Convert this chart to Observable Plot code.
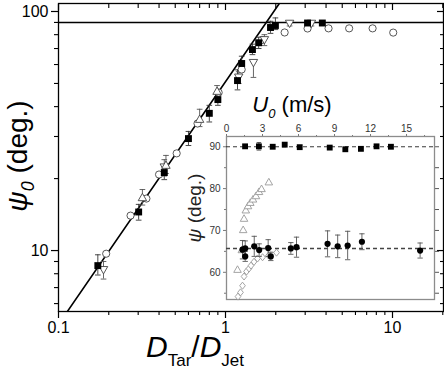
<!DOCTYPE html>
<html><head><meta charset="utf-8">
<script src="https://cdn.jsdelivr.net/npm/d3@7"></script>
<script src="https://cdn.jsdelivr.net/npm/@observablehq/plot@0.6"></script>
<style>
body{margin:0;background:#fff;}
#wrap{position:relative;width:444px;height:371px;overflow:hidden;}
#wrap svg{position:absolute;left:0;top:0;}
</style></head><body><div id="wrap"></div>
<script>
const FONT = "'Liberation Sans', Arial, Helvetica, sans-serif";

// ---------- main panel data: psi0 vs D_Tar/D_Jet ----------
const sqX  = [0.172, 0.302, 0.43, 0.60, 0.80, 0.90, 1.18, 1.25, 1.45, 1.58, 1.86, 1.99, 3.1, 3.8];
const sqY  = [8.65, 14.5, 21.2, 29.4, 37.5, 42.8, 51.4, 60.6, 69.3, 74.0, 85.7, 87.4, 89.5, 89.5];
const sqLo = [7.9, 13.4, 19.8, 27.5, 34.5, 40.5, 47.0, 57.0, 66.0, 70.0, 81.0, 84.0, 88.0, 88.0];
const sqHi = [9.6, 15.6, 22.8, 31.5, 40.5, 45.5, 57.0, 65.0, 73.0, 78.0, 91.0, 94.0, 91.0, 91.0];

const circX = [0.193, 0.27, 0.336, 0.40, 0.51, 0.68, 0.91, 1.25, 1.65, 1.92, 2.26, 3.1, 4.14, 5.5, 7.6, 10.1];
const circY = [9.7, 14.0, 16.5, 20.8, 25.5, 34.0, 45.8, 57.2, 76.0, 87.0, 81.7, 84.9, 85.0, 85.0, 85.0, 81.6];

const tdX  = [0.186, 0.43, 1.20, 1.47, 1.71, 2.42, 3.27];
const tdY  = [8.3, 22.3, 53.0, 61.0, 76.0, 89.0, 89.0];
const tdLo = [7.6, 20.5, 50.0, 53.0, 72.0, 87.0, 87.0];
const tdHi = [9.0, 24.0, 56.0, 62.0, 80.0, 91.0, 91.0];

const tuX  = [0.318, 0.44, 0.70, 0.89];
const tuY  = [16.7, 22.8, 35.5, 46.5];
const tuLo = [15.5, 21.0, 33.0, 44.0];
const tuHi = [18.0, 25.0, 39.0, 49.0];

const fitX = [0.113, 2.1];
const fitY = [5.56, 108];
const plateau = [90];

const xMajor = [0.1, 1, 10];
const xMinor = [0.2,0.3,0.4,0.5,0.6,0.7,0.8,0.9,2,3,4,5,6,7,8,9,20];
const yMajor = [10, 100];
const yMinor = [6,7,8,9,20,30,40,50,60,70,80,90];

// ---------- inset data ----------
const uTicks = [0,3,6,9,12,15];
const uMinor = [1.5,4.5,7.5,10.5,13.5,16.5];
const psiTicks = [60,70,80,90];
const psiMinor = [55,65,75,85];

const sqU    = [1.55, 2.7, 3.85, 4.85, 6.1, 8.6, 9.9, 11.2, 12.5, 13.7];
const sqPsi  = [90.1, 90.1, 90.0, 90.5, 89.9, 89.8, 89.4, 89.5, 90.1, 90.0];
const sqPErr = [0.4, 0.9, 0.4, 0.3, 0.4, 0.3, 0.3, 0.4, 0.3, 0.3];

const dotD   = [1.264, 1.312, 1.312, 1.486, 1.59, 1.80, 1.867, 2.46, 2.66, 4.08, 4.69, 5.38, 6.55, 14.6];
const dotPsi = [65.4, 65.7, 63.8, 66.2, 65.3, 65.8, 63.8, 65.7, 66.0, 66.8, 66.2, 66.4, 67.3, 65.2];
const dotErr = [2.2, 1.8, 1.2, 2.4, 1.5, 2.0, 1.0, 1.4, 2.4, 3.1, 2.7, 3.4, 1.9, 1.8];

const triD   = [1.180, 1.252, 1.276, 1.291, 1.323, 1.364, 1.408, 1.461, 1.522, 1.587, 1.643, 1.817];
const triPsi = [60.7, 65.4, 70.2, 72.9, 74.9, 75.9, 76.7, 77.5, 78.3, 79.3, 80.0, 81.6];

const diaD   = [1.188, 1.230, 1.264, 1.291, 1.336, 1.383, 1.421, 1.481, 1.554, 1.666, 1.809, 2.020];
const diaPsi = [54.2, 55.2, 56.8, 59.0, 60.2, 60.9, 61.6, 62.5, 63.3, 63.6, 64.0, 64.7];

const ref90 = [90];
const refMean = [65.7];

// ---------- custom symbols ----------
const triDown = {draw(ctx, size){ const r = Math.sqrt(size)/1.6; ctx.moveTo(-r,-r*0.8); ctx.lineTo(r,-r*0.8); ctx.lineTo(0,r*0.95); ctx.closePath(); }};
const triUp   = {draw(ctx, size){ const r = Math.sqrt(size)/1.6; ctx.moveTo(-r,r*0.8); ctx.lineTo(r,r*0.8); ctx.lineTo(0,-r*0.95); ctx.closePath(); }};
const diamond = {draw(ctx, size){ const r = Math.sqrt(size)/1.7; ctx.moveTo(0,-r); ctx.lineTo(r*0.8,0); ctx.lineTo(0,r); ctx.lineTo(-r*0.8,0); ctx.closePath(); }};
const cap     = {draw(ctx, size){ const w = Math.sqrt(size)/2; ctx.moveTo(-w,0); ctx.lineTo(w,0); }};

const tab = (xs, ys, lo, hi) => xs.map((x,i)=>({x, y: ys[i], lo: lo ? lo[i] : null, hi: hi ? hi[i] : null}));
const sq = tab(sqX, sqY, sqLo, sqHi);
const circ = tab(circX, circY);
const td = tab(tdX, tdY, tdLo, tdHi);
const tu = tab(tuX, tuY, tuLo, tuHi);
const fit = fitX.map((x,i)=>({x, y: fitY[i]}));

function errMarks(data, color){
  return [
    Plot.ruleX(data, {x:"x", y1:"lo", y2:"hi", stroke:color, strokeWidth:0.9}),
    Plot.dot(data, {x:"x", y:"lo", symbol:cap, r:3.2, stroke:color, strokeWidth:0.9, fill:"none"}),
    Plot.dot(data, {x:"x", y:"hi", symbol:cap, r:3.2, stroke:color, strokeWidth:0.9, fill:"none"})
  ];
}

const blank = () => "";

const main = Plot.plot({
  width: 444, height: 371,
  marginLeft: 58, marginRight: 1, marginTop: 3, marginBottom: 60,
  style: {fontFamily: FONT, background: "white", color: "black"},
  x: {type: "log", domain: [0.1, 20.2]},
  y: {type: "log", domain: [5.56, 108]},
  marks: [
    Plot.axisX(xMajor, {anchor:"bottom", tickSize:7, tickPadding:3, fontSize:16, tickFormat: d => String(d), label:null, strokeWidth:1.2}),
    Plot.axisX(xMinor, {anchor:"bottom", tickSize:4, tickFormat: blank, label:null, strokeWidth:1.1}),
    Plot.axisX(xMajor, {anchor:"top", tickSize:-6, tickFormat: blank, label:null, strokeWidth:1.2}),
    Plot.axisX(xMinor, {anchor:"top", tickSize:-4, tickFormat: blank, label:null, strokeWidth:1.1}),
    Plot.axisY(yMajor, {anchor:"left", tickSize:7, tickPadding:3, fontSize:16, tickFormat: d => String(d), label:null, strokeWidth:1.2}),
    Plot.axisY(yMinor, {anchor:"left", tickSize:4, tickFormat: blank, label:null, strokeWidth:1.1}),
    Plot.axisY(yMajor, {anchor:"right", tickSize:-7, tickFormat: blank, label:null, strokeWidth:1.2}),
    Plot.axisY(yMinor, {anchor:"right", tickSize:-4, tickFormat: blank, label:null, strokeWidth:1.1}),
    Plot.frame({stroke:"black", strokeWidth:1.3}),
    Plot.ruleY(plateau, {stroke:"black", strokeWidth:1.5}),
    Plot.line(fit, {x:"x", y:"y", stroke:"black", strokeWidth:1.6, clip:true}),
    ...errMarks(sq, "#333"),
    ...errMarks(td, "#555"),
    ...errMarks(tu, "#555"),
    Plot.dot(circ, {x:"x", y:"y", r:3.6, stroke:"#444", strokeWidth:0.9, fill:"white"}),
    Plot.dot(td, {x:"x", y:"y", r:3.8, symbol:triDown, stroke:"#444", strokeWidth:0.9, fill:"white"}),
    Plot.dot(tu, {x:"x", y:"y", r:3.8, symbol:triUp, stroke:"#444", strokeWidth:0.9, fill:"white"}),
    Plot.dot(sq, {x:"x", y:"y", r:3.9, symbol:"square", fill:"black", stroke:"none"})
  ]
});

// ---------- inset ----------
const IW = 255, IH = 213, IL = 41, IR = 6, IT = 44, IB = 6;
const yIn = {domain: [53.5, 92.45]};

const sqIn = sqU.map((u,i)=>({x:u, y:sqPsi[i], lo:sqPsi[i]-sqPErr[i], hi:sqPsi[i]+sqPErr[i]}));
const dotIn = dotD.map((d,i)=>({x:d, y:dotPsi[i], lo:dotPsi[i]-dotErr[i], hi:dotPsi[i]+dotErr[i]}));
const triIn = triD.map((d,i)=>({x:d, y:triPsi[i]}));
const diaIn = diaD.map((d,i)=>({x:d, y:diaPsi[i]}));

const insetU = Plot.plot({
  width: IW, height: IH, marginLeft: IL, marginRight: IR, marginTop: IT, marginBottom: IB,
  style: {fontFamily: FONT, background: "transparent", color: "#333", overflow: "visible"},
  x: {domain: [0, 17.33]},
  y: yIn,
  marks: [
    Plot.frame({fill:"white", stroke:"none"}),
    Plot.axisX(uTicks, {anchor:"top", tickSize:3, tickPadding:2, fontSize:10, label:null, stroke:"#777"}),
    Plot.axisX(uMinor, {anchor:"top", tickSize:2, tickFormat: blank, label:null, stroke:"#777"}),
    Plot.axisY(psiTicks, {anchor:"left", tickSize:3, tickPadding:3, fontSize:10, label:null, stroke:"#777"}),
    Plot.axisY(psiMinor, {anchor:"left", tickSize:2, tickFormat: blank, label:null, stroke:"#777"}),
    Plot.axisY([...psiTicks, ...psiMinor], {anchor:"right", tickSize:4, tickFormat: blank, label:null, stroke:"#555"}),
    Plot.frame({stroke:"#8c8c8c", strokeWidth:1.3}),
    Plot.ruleY(ref90, {stroke:"#222", strokeWidth:0.9, strokeDasharray:"4,3"}),
    Plot.ruleY(refMean, {stroke:"#444", strokeWidth:1.6, strokeDasharray:"4,3"}),
    Plot.ruleX(sqIn, {x:"x", y1:"lo", y2:"hi", stroke:"#444", strokeWidth:0.9}),
    Plot.dot(sqIn, {x:"x", y:"lo", symbol:cap, r:2.6, stroke:"#444", strokeWidth:0.9}),
    Plot.dot(sqIn, {x:"x", y:"hi", symbol:cap, r:2.6, stroke:"#444", strokeWidth:0.9}),
    Plot.dot(sqIn, {x:"x", y:"y", r:3.3, symbol:"square", fill:"black", stroke:"none"})
  ]
});

const insetD = Plot.plot({
  width: IW, height: IH, marginLeft: IL, marginRight: IR, marginTop: IT, marginBottom: IB,
  style: {fontFamily: FONT, background: "transparent", overflow: "visible"},
  x: {type: "log", domain: [1.014, 17.8], axis: null},
  y: {...yIn, axis: null},
  marks: [
    Plot.dot(triIn, {x:"x", y:"y", r:3.4, symbol:triUp, stroke:"#9a9a9a", strokeWidth:0.9, fill:"white"}),
    Plot.dot(diaIn, {x:"x", y:"y", r:3.4, symbol:diamond, stroke:"#9a9a9a", strokeWidth:0.9, fill:"white"}),
    Plot.ruleX(dotIn, {x:"x", y1:"lo", y2:"hi", stroke:"#555", strokeWidth:0.9}),
    Plot.dot(dotIn, {x:"x", y:"lo", symbol:cap, r:3, stroke:"#555", strokeWidth:0.9}),
    Plot.dot(dotIn, {x:"x", y:"hi", symbol:cap, r:3, stroke:"#555", strokeWidth:0.9}),
    Plot.dot(dotIn, {x:"x", y:"y", r:3.1, fill:"black", stroke:"none"})
  ]
});

const wrap = document.getElementById("wrap");
wrap.appendChild(main);
for (const s of [insetU, insetD]) {
  s.style.left = "185px"; s.style.top = "92px";
  s.style.width = IW + "px"; s.style.height = IH + "px"; s.style.maxWidth = "none";
  wrap.appendChild(s);
}

// ---------- rich-text labels ----------
const svg = d3.select(main);
const yl = svg.append("text").attr("transform","translate(27,156) rotate(-90)")
  .attr("text-anchor","middle").attr("font-family",FONT).attr("font-size",28).attr("fill","black");
yl.append("tspan").attr("font-style","italic").text("ψ");
yl.append("tspan").attr("font-style","italic").attr("font-size",18).attr("dy",7).text("0");
yl.append("tspan").attr("dy",-7).text(" (deg.)");

const xl = svg.append("text").attr("x",195).attr("y",357)
  .attr("font-family",FONT).attr("font-size",30).attr("fill","black");
xl.append("tspan").attr("font-style","italic").text("D");
xl.append("tspan").attr("font-size",17).attr("dy",9).text("Tar");
xl.append("tspan").attr("dy",-9).text("/");
xl.append("tspan").attr("font-style","italic").text("D");
xl.append("tspan").attr("font-size",17).attr("dy",9).text("Jet");

const ul = svg.append("text").attr("x",292).attr("y",112)
  .attr("font-family",FONT).attr("font-size",22).attr("fill","black");
ul.append("tspan").attr("font-style","italic").text("U");
ul.append("tspan").attr("font-style","italic").attr("font-size",13).attr("dy",6).text("0");
ul.append("tspan").attr("dy",-6).text(" (m/s)");

const il = svg.append("text").attr("transform","translate(201,208) rotate(-90)")
  .attr("text-anchor","middle").attr("font-family",FONT).attr("font-size",19).attr("fill","#222");
il.append("tspan").attr("font-style","italic").text("ψ");
il.append("tspan").text(" (deg.)");
</script>
</body></html>
